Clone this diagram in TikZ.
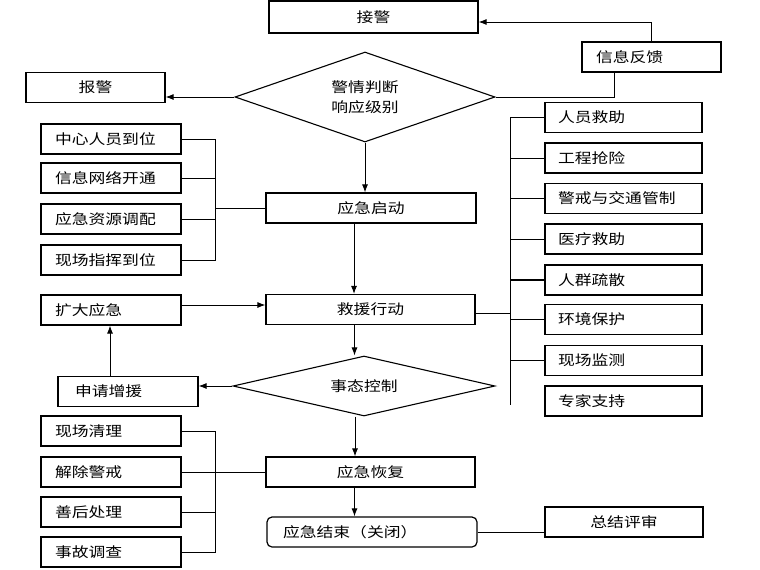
\documentclass[tikz,border=0pt]{standalone}
\usepackage{fontspec}
\newfontfamily\cjkfam[FakeStretch=1.2]{Noto Sans CJK SC}
\newcommand\zhtext{\cjkfam\fontsize{14}{16}\selectfont}
\usetikzlibrary{shapes.geometric,arrows.meta,calc}
\begin{document}
\begin{tikzpicture}[x=1pt,y=-1pt,
  box/.style={draw=black, line width=1.2pt, minimum height=30pt, inner ysep=0pt, font=\zhtext, text=black},
  cbox/.style={box, minimum width=#1, inner xsep=0pt},
  lbox/.style={box, inner xsep=14pt, text width=#1, align=left},
  rbox/.style={box, inner xsep=13pt, text width=131pt, align=left},
  dia/.style={draw=black, line width=1.1pt, shape=diamond, inner sep=0pt, font=\zhtext, text=black, align=center},
  conn/.style={draw=black, line width=0.9pt},
  arr/.style={conn, -{Latex[length=8pt,width=6pt]}}
]
\fill[white] (0,0) rectangle (760,570);
\useasboundingbox (0,0) rectangle (760,570);

% main column
\node[cbox=209pt, minimum height=32pt] (jj) at (373.5,17) {接警};
\node[dia, minimum width=260pt, minimum height=90pt, aspect=2.9] (d1) at (365,97) {警情判断\\[4pt]响应级别};
\node[cbox=210pt] (qd) at (371,208) {应急启动};
\node[cbox=209pt] (jy) at (370.5,309.5) {救援行动};
\node[dia, minimum width=262pt, minimum height=60pt, aspect=4.4] (d2) at (364,386) {事态控制};
\node[cbox=209pt] (hf) at (370.5,472) {应急恢复};
\node[box, rounded corners=5pt, inner xsep=16pt, text width=178pt, align=left] (js) at (372,532) {应急结束（关闭）};

% top right / left
\node[lbox=111pt] (fk) at (651.5,57) {信息反馈};
\node[cbox=139pt] (bj) at (95.5,87.5) {报警};
\node[cbox=158pt] (zj) at (624,522) {总结评审};

% left group 1
\node[lbox=112pt] (a1) at (111,139) {中心人员到位};
\node[lbox=112pt] (a2) at (111,178) {信息网络开通};
\node[lbox=112pt] (a3) at (111,219) {应急资源调配};
\node[lbox=112pt] (a4) at (111,260) {现场指挥到位};

% left middle
\node[lbox=112pt] (kd) at (111,310) {扩大应急};
\node[box, inner xsep=17pt, text width=106pt, align=left] (sq) at (128,391.5) {申请增援};

% left group 2
\node[lbox=112pt] (b1) at (111,431) {现场清理};
\node[lbox=112pt] (b2) at (111,472) {解除警戒};
\node[lbox=112pt] (b3) at (111,512) {善后处理};
\node[lbox=112pt] (b4) at (111,552) {事故调查};

% right group
\node[rbox] (r1) at (623.5,117.5) {人员救助};
\node[rbox] (r2) at (623.5,158) {工程抢险};
\node[rbox] (r3) at (623.5,198.5) {警戒与交通管制};
\node[rbox] (r4) at (623.5,239) {医疗救助};
\node[rbox] (r5) at (623.5,280) {人群疏散};
\node[rbox] (r6) at (623.5,319.5) {环境保护};
\node[rbox] (r7) at (623.5,360.5) {现场监测};
\node[rbox] (r8) at (623.5,401) {专家支持};

% connectors: main flow
\draw[arr] (fk.north) |- ([yshift=-5pt]jj.east);
\draw[conn] ([xshift=-37pt]fk.south) |- (d1.east);
\draw[arr] (d1.west) -- (d1.west -| bj.east);
\draw[arr] (d1.south) -- (d1.south |- qd.north);
\draw[arr] ([xshift=-17pt]qd.south) -- ([xshift=-17pt]qd.south |- jy.north);
\draw[arr] ([xshift=-16pt]jy.south) -- ([xshift=-16pt]jy.south |- d2.north);
\draw[arr] ([xshift=-9pt]d2.south) -- ([xshift=-9pt]d2.south |- hf.north);
\draw[arr] ([xshift=-16pt]hf.south) -- ([xshift=-16pt]hf.south |- js.north);
\draw[conn] (js.east) -- (js.east -| zj.west);

% left middle
\draw[arr] ([yshift=5pt]kd.east) -- ([yshift=5pt]kd.east -| jy.west);
\draw[arr] (d2.west) -- (d2.west -| sq.east);
\draw[arr] ([xshift=-18pt]sq.north) -- ([xshift=-18pt]sq.north |- kd.south);

% bracket group 1
\draw[conn] (a1.east) -- ++(34,0) coordinate (ga) |- (a4.east);
\draw[conn] (a2.east) -- (a2.east -| ga);
\draw[conn] (a3.east) -- (a3.east -| ga);
\draw[conn] (qd.west) -- (qd.west -| ga);

% bracket group 2
\draw[conn] (b1.east) -- ++(34,0) coordinate (gb) |- (b4.east);
\draw[conn] (b2.east) -- (b2.east -| gb);
\draw[conn] (b3.east) -- (b3.east -| gb);
\draw[conn] (hf.west) -- (hf.west -| gb);

% right bracket
\draw[conn] (r1.west) -- ++(-34,0) coordinate (rt) -- ($(rt |- r8.center)+(0,4)$);
\draw[conn] (r2.west) -- (r2.west -| rt);
\draw[conn] (r3.west) -- (r3.west -| rt);
\draw[conn] (r4.west) -- (r4.west -| rt);
\draw[conn, line width=1.6pt] (r5.west) -- (r5.west -| rt);
\draw[conn] (r6.west) -- (r6.west -| rt);
\draw[conn] (r7.west) -- (r7.west -| rt);
\draw[conn] ([yshift=-4pt]jy.east) -- ([yshift=-4pt]jy.east -| rt);
\end{tikzpicture}
\end{document}
